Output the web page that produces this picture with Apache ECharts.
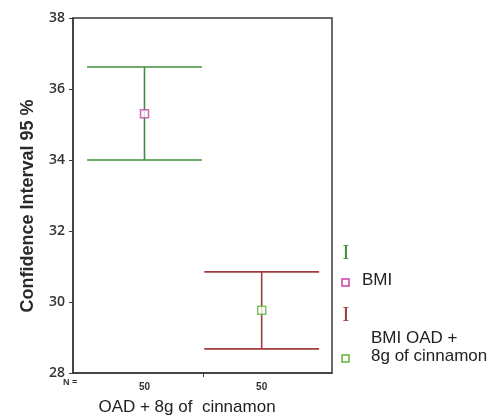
<!DOCTYPE html>
<html>
<head>
<meta charset="utf-8">
<script src="https://cdn.jsdelivr.net/npm/echarts@6/dist/echarts.min.js"></script>
<style>
  html, body { margin: 0; padding: 0; background: #fff; }
  #chart { width: 494px; height: 415px; }
</style>
</head>
<body>
<div id="chart"></div>
<script>
// --- data ---
const groups = ['BMI', 'BMI OAD +\n8g of cinnamon'];
const counts = [50, 50];
const means = [35.3, 29.77];
const lower = [34.0, 28.68];
const upper = [36.62, 30.85];
const yTicks = [28, 30, 32, 34, 36, 38];

// colours: error bar / mean marker
const BAR_COLORS = ['#3f8f3f', '#a03c3c'];
const MEAN_COLORS = ['#c83fa8', '#5cb536'];

const chart = echarts.init(document.getElementById('chart'));

const positions = groups.map((g, i) => i + 1);

const option = {
  backgroundColor: '#fff',
  animation: false,
  grid: {
    left: 73, right: 162, top: 18, bottom: 42,
    show: true, borderColor: '#3a3a3a', borderWidth: 1.5
  },
  xAxis: {
    type: 'value',
    min: 0.39, max: 2.6,
    splitLine: { show: false },
    axisLine: { show: true, lineStyle: { color: '#3a3a3a', width: 1.5 } },
    axisTick: { show: true, customValues: [1.5], length: 4, lineStyle: { color: '#3a3a3a' } },
    axisLabel: {
      customValues: positions,
      formatter: v => String(counts[Math.round(v) - 1]),
      fontFamily: 'Liberation Sans', fontSize: 10, fontWeight: 'bold', color: '#333',
      margin: 9
    }
  },
  yAxis: {
    type: 'value',
    min: yTicks[0], max: yTicks[yTicks.length - 1], interval: 2,
    splitLine: { show: false },
    axisLine: { show: true, lineStyle: { color: '#3a3a3a', width: 1.5 } },
    axisTick: { show: true, length: 4, lineStyle: { color: '#3a3a3a' } },
    axisLabel: { fontFamily: 'Open Sans', fontSize: 14, fontWeight: 600, color: '#333', margin: 8 }
  },
  series: [
    {
      type: 'custom',
      data: positions.map((x, i) => [x, lower[i], upper[i]]),
      renderItem: (params, api) => {
        const x = api.value(0);
        const lo = api.coord([x, api.value(1)]);
        const hi = api.coord([x, api.value(2)]);
        const half = api.size([0.49, 0])[0];
        const style = { stroke: BAR_COLORS[params.dataIndex], lineWidth: 1.6 };
        return {
          type: 'group',
          children: [
            { type: 'line', shape: { x1: hi[0], y1: hi[1], x2: lo[0], y2: lo[1] }, style },
            { type: 'line', shape: { x1: hi[0] - half, y1: hi[1], x2: hi[0] + half, y2: hi[1] }, style },
            { type: 'line', shape: { x1: lo[0] - half, y1: lo[1], x2: lo[0] + half, y2: lo[1] }, style }
          ]
        };
      },
      z: 2
    },
    {
      type: 'scatter',
      data: positions.map((x, i) => ({
        value: [x, means[i]],
        itemStyle: { color: '#fff', borderColor: MEAN_COLORS[i], borderWidth: 1.5 }
      })),
      symbol: 'rect',
      symbolSize: 8,
      z: 3
    }
  ],
  graphic: [
    // axis titles
    { type: 'text', x: 28, y: 206, rotation: Math.PI / 2,
      style: { text: 'Confidence Interval 95 %', fontFamily: 'Liberation Sans', fontSize: 18,
        fontWeight: 'bold', fill: '#2a2a2a', align: 'center', verticalAlign: 'middle' } },
    { type: 'text', x: 187, y: 407,
      style: { text: 'OAD + 8g of  cinnamon', fontFamily: 'Liberation Sans', fontSize: 17,
        fill: '#222', align: 'center', verticalAlign: 'middle' } },
    { type: 'text', x: 63, y: 383,
      style: { text: 'N =', fontFamily: 'Liberation Sans', fontSize: 9, fontWeight: 'bold',
        fill: '#333', verticalAlign: 'middle' } },
    // legend
    { type: 'text', x: 346, y: 253,
      style: { text: 'I', fontFamily: 'Liberation Serif', fontSize: 22, fill: BAR_COLORS[0],
        align: 'center', verticalAlign: 'middle' } },
    { type: 'rect', shape: { x: 342, y: 279, width: 7, height: 7 },
      style: { fill: '#fff', stroke: MEAN_COLORS[0], lineWidth: 1.5 } },
    { type: 'text', x: 362, y: 280,
      style: { text: groups[0], fontFamily: 'Liberation Sans', fontSize: 17, fill: '#222',
        verticalAlign: 'middle' } },
    { type: 'text', x: 346, y: 315,
      style: { text: 'I', fontFamily: 'Liberation Serif', fontSize: 22, fill: BAR_COLORS[1],
        align: 'center', verticalAlign: 'middle' } },
    { type: 'rect', shape: { x: 342, y: 355, width: 7, height: 7 },
      style: { fill: '#fff', stroke: MEAN_COLORS[1], lineWidth: 1.5 } },
    { type: 'text', x: 371, y: 347,
      style: { text: groups[1], fontFamily: 'Liberation Sans', fontSize: 17, lineHeight: 18,
        fill: '#222', verticalAlign: 'middle' } }
  ]
};

chart.setOption(option);
</script>
</body>
</html>
